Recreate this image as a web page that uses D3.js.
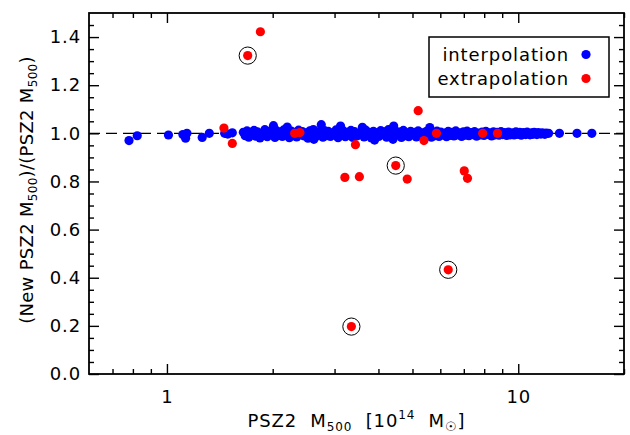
<!DOCTYPE html>
<html>
<head>
<meta charset="utf-8">
<script src="https://cdn.jsdelivr.net/npm/d3@7"></script>
<style>
  body { margin: 0; background: #fff; }
  text { font-family: "DejaVu Sans", sans-serif; font-size: 18px; letter-spacing: 0.9px; fill: #000; }
</style>
</head>
<body>
<div id="chart"></div>
<script>
/* Data: PSZ2 M500 [1e14 Msun] vs (new M500)/(PSZ2 M500) */

// interpolation, sparse points (tails and stragglers)
var interpSparseMass  = [0.78, 0.823, 1.01, 1.11, 1.13, 1.14, 1.26, 1.32, 1.46, 1.49, 1.535, 2.01, 2.75, 3.12, 4.42, 2.20, 3.60, 5.60, 2.62, 3.90, 4.40, 12.2, 13.1, 14.7, 16.2];
var interpSparseRatio = [0.970, 0.990, 0.993, 0.995, 0.980, 1.000, 0.983, 1.000, 1.000, 0.997, 1.002, 1.032, 1.036, 1.030, 1.030, 1.026, 1.025, 1.024, 0.975, 0.972, 0.975, 1.000, 1.000, 1.000, 1.000];

// interpolation, dense band (upper row)
var interpUpperMass = [1.65,1.69,1.73,1.77,1.81,1.86,1.90,1.95,2.00,2.05,2.10,2.15,2.20,2.26,2.31,2.37,2.43,2.49,2.55,2.61,
  2.68,2.74,2.81,2.88,2.95,3.03,3.10,3.18,3.26,3.34,3.42,3.51,3.59,3.68,3.77,3.87,3.96,4.06,4.16,4.27,
  4.37,4.48,4.59,4.71,4.82,4.94,5.07,5.19,5.32,5.46,5.59,5.73,5.87,6.02,6.17,6.32,6.48,6.64,6.81,6.98,
  7.15,7.33,7.51,7.70,7.89,8.09,8.29,8.50,8.71,8.93,9.15,9.38,9.61,9.85,10.1,10.35,10.6,10.9,11.1,11.4,11.7,12.0];
var interpUpperRatio = [1.004,1.010,1.002,1.012,1.006,1.000,1.015,1.008,1.003,1.011,1.005,1.014,1.001,1.009,1.004,1.013,1.007,1.002,1.010,1.016,
  1.006,1.003,1.011,1.008,1.001,1.014,1.005,1.010,1.003,1.012,1.007,1.000,1.009,1.013,1.004,1.008,1.002,1.011,1.006,1.015,
  1.003,1.009,1.005,1.012,1.001,1.008,1.004,1.010,1.002,1.007,1.011,1.003,1.009,1.005,1.001,1.008,1.004,1.010,1.002,1.006,
  1.009,1.003,1.007,1.001,1.005,1.008,1.002,1.006,1.004,1.007,1.003,1.005,1.002,1.006,1.004,1.003,1.005,1.002,1.004,1.003,1.002,1.001];

// interpolation, dense band (lower row)
var interpLowerMass = [1.67,1.71,1.75,1.79,1.84,1.88,1.93,1.98,2.03,2.08,2.13,2.18,2.23,2.29,2.34,2.40,2.46,2.52,2.58,2.65,
  2.71,2.78,2.85,2.92,2.99,3.07,3.14,3.22,3.30,3.38,3.47,3.55,3.64,3.73,3.82,3.92,4.01,4.11,4.22,4.32,
  4.43,4.54,4.65,4.77,4.88,5.01,5.13,5.26,5.39,5.52,5.66,5.80,5.95,6.10,6.25,6.40,6.56,6.73,6.90,7.07,
  7.24,7.42,7.61,7.80,7.99,8.19,8.40,8.61,8.82,9.04,9.27,9.50,9.73,9.98,10.2,10.5,10.8,11.0,11.3,11.6,11.9];
var interpLowerRatio = [0.990,0.984,0.995,0.988,0.981,0.993,0.986,0.997,0.983,0.991,0.987,0.996,0.982,0.992,0.985,0.994,0.989,0.980,0.993,0.986,
  0.998,0.984,0.990,0.987,0.995,0.982,0.991,0.986,0.994,0.983,0.989,0.996,0.985,0.992,0.981,0.990,0.987,0.995,0.984,0.991,
  0.988,0.997,0.983,0.990,0.986,0.994,0.985,0.992,0.988,0.995,0.984,0.990,0.987,0.993,0.986,0.991,0.989,0.994,0.987,0.992,
  0.990,0.995,0.988,0.993,0.991,0.996,0.989,0.994,0.992,0.995,0.991,0.994,0.993,0.996,0.992,0.995,0.994,0.996,0.995,0.997,0.996];

// extrapolation
var extrapMass  = [1.845, 1.698, 1.453, 1.535, 2.31, 2.39, 5.19, 3.44, 5.85, 5.39, 4.48, 3.21, 3.53, 4.83, 7.02, 7.17, 7.92, 8.73, 6.32, 3.35];
var extrapRatio = [1.422, 1.323, 1.022, 0.958, 1.000, 1.003, 1.094, 0.953, 1.000, 0.970, 0.866, 0.817, 0.820, 0.810, 0.844, 0.813, 1.000, 1.000, 0.433, 0.197];
var circledIdx  = [1, 10, 18, 19];

// axes
var xDomain = [0.6, 20];
var yDomain = [0, 1.5];
var xMajorTicks = [1, 10];
var xMinorTicks = [0.7, 0.8, 0.9, 2, 3, 4, 5, 6, 7, 8, 9, 20];
var yMajorTicks = [0.0, 0.2, 0.4, 0.6, 0.8, 1.0, 1.2, 1.4];
var yMinorTicks = [0.05, 0.1, 0.15, 0.25, 0.3, 0.35, 0.45, 0.5, 0.55, 0.65, 0.7, 0.75, 0.85, 0.9, 0.95,
                   1.05, 1.1, 1.15, 1.25, 1.3, 1.35, 1.45];

var legendLabels = ["interpolation", "extrapolation"];
var legendColors = ["#0000ff", "#ff0000"];


var width = 630;
var height = 435;
var margin = {top: 13, right: 6, bottom: 61, left: 89};
var dotRadius = 4.6;
var ringRadius = 8.6;

var interp = d3.zip(interpSparseMass, interpSparseRatio)
  .concat(d3.zip(interpUpperMass, interpUpperRatio))
  .concat(d3.zip(interpLowerMass, interpLowerRatio));
var extrap = d3.zip(extrapMass, extrapRatio);

/* Scales */
var xScale = d3.scaleLog()
  .domain(xDomain)
  .range([margin.left, width - margin.right]);

var yScale = d3.scaleLinear()
  .domain(yDomain)
  .range([height - margin.bottom, margin.top]);

var svg = d3.select("#chart").append("svg")
  .attr("width", width)
  .attr("height", height);

/* Reference line at ratio 1 */
svg.append("line")
  .attr("x1", xScale(xDomain[0]))
  .attr("x2", xScale(xDomain[1]))
  .attr("y1", yScale(1))
  .attr("y2", yScale(1))
  .attr("stroke", "#000")
  .attr("stroke-width", 1.3)
  .attr("stroke-dasharray", "11,6");

/* Points */
svg.append("g").selectAll("circle")
  .data(interp).enter()
  .append("circle")
  .attr("cx", d => xScale(d[0]))
  .attr("cy", d => yScale(d[1]))
  .attr("r", dotRadius)
  .attr("fill", legendColors[0]);

svg.append("g").selectAll("circle")
  .data(extrap).enter()
  .append("circle")
  .attr("cx", d => xScale(d[0]))
  .attr("cy", d => yScale(d[1]))
  .attr("r", dotRadius)
  .attr("fill", legendColors[1]);

svg.append("g").selectAll("circle")
  .data(circledIdx.map(i => extrap[i])).enter()
  .append("circle")
  .attr("cx", d => xScale(d[0]))
  .attr("cy", d => yScale(d[1]))
  .attr("r", ringRadius)
  .attr("fill", "none")
  .attr("stroke", "#000")
  .attr("stroke-width", 1);

/* Axes (ticks point inward on all four sides) */
function addAxis(axis, ticks, size, transform, labels, pad) {
  var g = svg.append("g")
    .attr("transform", transform)
    .call(axis.tickValues(ticks)
      .tickSizeInner(-size)
      .tickSizeOuter(0)
      .tickPadding(pad || 3)
      .tickFormat(labels ? labels : ""));
  g.select(".domain").remove();
  g.selectAll("line").attr("stroke", "#000").attr("stroke-width", 1.4);
  g.selectAll("text").attr("font-family", null).attr("font-size", null);
  return g;
}

var xB = `translate(0,${height - margin.bottom})`;
var xT = `translate(0,${margin.top})`;
var yL = `translate(${margin.left},0)`;
var yR = `translate(${width - margin.right},0)`;

addAxis(d3.axisBottom(xScale), xMajorTicks, 10, xB, d3.format("d"), 16);
addAxis(d3.axisBottom(xScale), xMinorTicks, 5, xB);
addAxis(d3.axisTop(xScale), xMajorTicks, 10, xT);
addAxis(d3.axisTop(xScale), xMinorTicks, 5, xT);
addAxis(d3.axisLeft(yScale), yMajorTicks, 10, yL, d3.format(".1f"), 8);
addAxis(d3.axisLeft(yScale), yMinorTicks, 5, yL);
addAxis(d3.axisRight(yScale), yMajorTicks, 10, yR);
addAxis(d3.axisRight(yScale), yMinorTicks, 5, yR);

/* Frame */
svg.append("rect")
  .attr("x", margin.left)
  .attr("y", margin.top)
  .attr("width", width - margin.left - margin.right)
  .attr("height", height - margin.top - margin.bottom)
  .attr("fill", "none")
  .attr("stroke", "#000")
  .attr("stroke-width", 1.8);

/* Axis titles */
var xTitle = svg.append("text")
  .attr("x", (margin.left + width - margin.right) / 2)
  .attr("y", 427)
  .attr("text-anchor", "middle")
  .style("white-space", "pre");
xTitle.append("tspan").text("PSZ2  M");
xTitle.append("tspan").attr("dy", 4).style("font-size", "12px").text("500");
xTitle.append("tspan").attr("dy", -4).text("  [10");
xTitle.append("tspan").attr("dy", -8).style("font-size", "12px").text("14");
xTitle.append("tspan").attr("dy", 8).text("  M");
xTitle.append("tspan").attr("dy", 4).style("font-size", "13px").text("\u2609");
xTitle.append("tspan").attr("dy", -4).text("]");

var yTitle = svg.append("text")
  .attr("transform", "translate(33,190) rotate(-90)")
  .attr("text-anchor", "middle")
  .style("letter-spacing", "0.3px")
  .style("white-space", "pre");
yTitle.append("tspan").text("(New PSZ2 M");
yTitle.append("tspan").attr("dy", 4).style("font-size", "12px").text("500");
yTitle.append("tspan").attr("dy", -4).text(")/(PSZ2 M");
yTitle.append("tspan").attr("dy", 4).style("font-size", "12px").text("500");
yTitle.append("tspan").attr("dy", -4).text(")");

/* Legend */
var legend = svg.append("g");
legend.append("rect")
  .attr("x", 429)
  .attr("y", 37)
  .attr("width", 180)
  .attr("height", 60)
  .attr("fill", "#fff")
  .attr("stroke", "#000")
  .attr("stroke-width", 1.5);

legend.selectAll(".lab")
  .data(legendLabels).enter()
  .append("text")
  .attr("class", "lab")
  .attr("x", 569)
  .attr("y", (d, i) => 61 + i * 24)
  .attr("text-anchor", "end")
  .text(d => d);

legend.selectAll(".dot")
  .data(legendColors).enter()
  .append("circle")
  .attr("class", "dot")
  .attr("cx", 586)
  .attr("cy", (d, i) => 54.5 + i * 24)
  .attr("r", dotRadius)
  .attr("fill", d => d);
</script>
</body>
</html>
